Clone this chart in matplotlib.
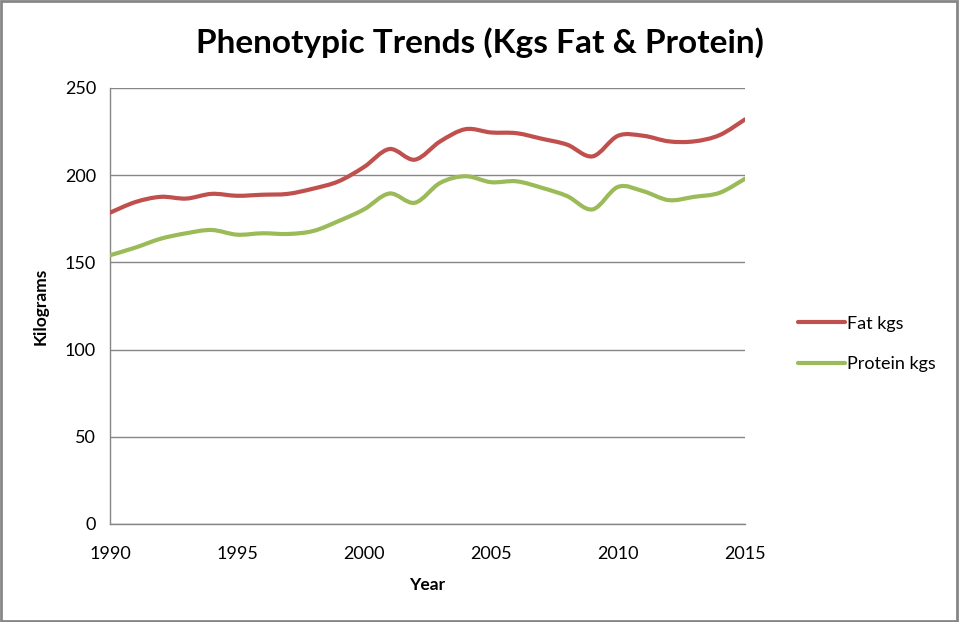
import matplotlib
matplotlib.use("Agg")
import matplotlib.pyplot as plt
from matplotlib.path import Path
from matplotlib.patches import PathPatch, Rectangle
from matplotlib.lines import Line2D
import numpy as np

years = list(range(1990, 2016))
fat_kgs = [178.5, 184.6, 187.6, 186.6, 189.3, 188.2, 188.8, 189.3, 192.3, 196.5,
           204.7, 215.0, 208.9, 219.4, 226.4, 224.5, 224.1, 220.9, 217.5, 210.8,
           222.6, 222.6, 219.4, 219.4, 223.0, 232.0]
protein_kgs = [154.1, 158.5, 163.6, 166.7, 168.6, 165.9, 166.7, 166.3, 168.0, 173.7,
               180.4, 189.5, 184.2, 195.6, 199.4, 196.0, 196.5, 192.8, 188.0, 180.4,
               193.3, 190.8, 185.7, 187.6, 189.9, 198.0]
series_names = ["Fat kgs", "Protein kgs"]
colors = ["#C0504D", "#9BBB59"]
y_ticks = [0, 50, 100, 150, 200, 250]
x_ticks = [1990, 1995, 2000, 2005, 2010, 2015]

FONT = ["Lato", "DejaVu Sans"]
plt.rcParams["font.family"] = FONT

fig = plt.figure(figsize=(9.59, 6.22), dpi=100)
fig.patches.append(Rectangle((0.001, 0.002), 0.997, 0.996, transform=fig.transFigure,
                             fill=False, edgecolor="#868686", linewidth=2.0))
ax = fig.add_axes([110/959, 1-524/622, 635/959, 436/622])


def smooth_path(xs, ys):
    pts = np.column_stack([xs, ys]).astype(float)
    n = len(pts)
    verts = [pts[0]]
    codes = [Path.MOVETO]
    for i in range(n - 1):
        p0 = pts[i - 1] if i > 0 else pts[i]
        p1 = pts[i]
        p2 = pts[i + 1]
        p3 = pts[i + 2] if i + 2 < n else pts[i + 1]
        c1 = p1 + (p2 - p0) / 6.0
        c2 = p2 - (p3 - p1) / 6.0
        verts += [c1, c2, p2]
        codes += [Path.CURVE4] * 3
    return Path(verts, codes)


handles = []
for vals, name, c in zip([fat_kgs, protein_kgs], series_names, colors):
    patch = PathPatch(smooth_path(years, vals), fill=False, edgecolor=c,
                      linewidth=3.0, capstyle="round", joinstyle="round", zorder=3)
    ax.add_patch(patch)
    handles.append(Line2D([0], [0], color=c, linewidth=3.0, solid_capstyle="round"))

ax.set_xlim(1990, 2015)
ax.set_ylim(0, 250)
ax.set_xticks(x_ticks)
ax.set_yticks(y_ticks)
ax.tick_params(length=0, labelsize=13, colors="black")
ax.tick_params(axis="x", pad=16)
ax.tick_params(axis="y", pad=10)
ax.yaxis.grid(True, color="#868686", linewidth=1.0)
ax.set_axisbelow(True)
for s in ["top", "right"]:
    ax.spines[s].set_visible(False)
for s in ["left", "bottom"]:
    ax.spines[s].set_color("#868686")
    ax.spines[s].set_linewidth(1.0)

ax.set_xlabel("Year", fontsize=12.5, fontweight="bold", labelpad=11)
ax.set_ylabel("Kilograms", fontsize=12.5, fontweight="bold", labelpad=12)

fig.text(480/959, 1-43/622, "Phenotypic Trends (Kgs Fat & Protein)", ha="center", va="center",
         fontsize=24, fontweight="bold")

fig.legend(handles, series_names, loc="center left", bbox_to_anchor=(782/959, 1-344/622),
           frameon=False, fontsize=13, handlelength=2.6, handletextpad=0.1,
           labelspacing=1.35)

fig.savefig("out.png", dpi=100)
